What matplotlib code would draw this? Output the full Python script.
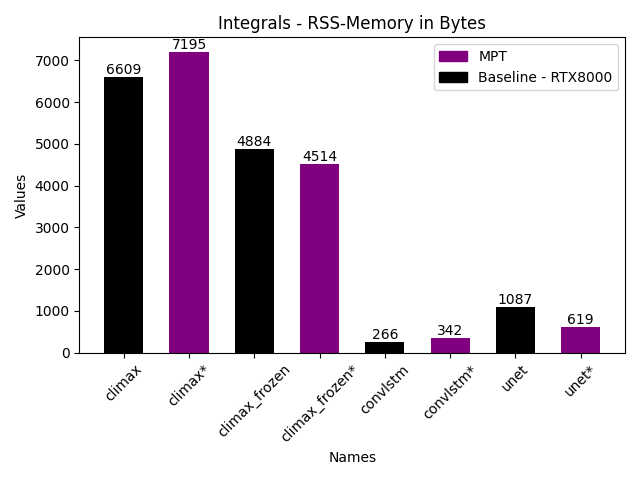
import matplotlib
matplotlib.use("Agg")
import matplotlib.pyplot as plt
from matplotlib.patches import Patch

names = ["climax", "climax*", "climax_frozen", "climax_frozen*",
         "convlstm", "convlstm*", "unet", "unet*"]
values = [6609, 7195, 4884, 4514, 266, 342, 1087, 619]
colors = ["black", "purple", "black", "purple", "black", "purple", "black", "purple"]

fig, ax = plt.subplots(figsize=(6.4, 4.8), dpi=100)
bars = ax.bar(names, values, color=colors, width=0.6)
ax.bar_label(bars, labels=[str(v) for v in values])

ax.set_title("Integrals - RSS-Memory in Bytes")
ax.set_xlabel("Names")
ax.set_ylabel("Values")
plt.xticks(rotation=45)

handles = [Patch(color="purple", label="MPT"),
           Patch(color="black", label="Baseline - RTX8000")]
ax.legend(handles=handles, loc="upper right")

plt.tight_layout()
plt.savefig("out.png")
